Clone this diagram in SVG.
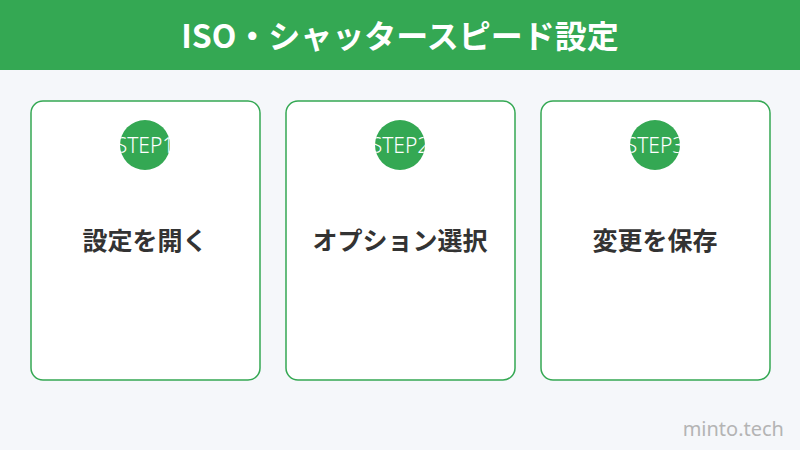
<svg xmlns="http://www.w3.org/2000/svg" width="800" height="450" viewBox="0 0 800 450">
<style>
.card{fill:#fff;stroke:#34a853;stroke-width:1.5}
.badge{fill:#34a853}
.step{font-family:"Noto Sans","Noto Sans CJK JP",sans-serif;font-size:21px;font-weight:300;fill:#fff;text-anchor:middle}
.label{font-family:"Noto Sans CJK JP",sans-serif;font-size:25px;font-weight:700;fill:#333;text-anchor:middle}
</style>
<defs>
<clipPath id="c1"><circle cx="145" cy="145" r="25"/></clipPath>
<clipPath id="c2"><circle cx="400" cy="145" r="25"/></clipPath>
<clipPath id="c3"><circle cx="655" cy="145" r="25"/></clipPath>
</defs>
<rect width="800" height="450" fill="#f5f7fa"/>
<g id="header">
<rect x="0" y="0" width="800" height="70" fill="#34a853"/>
<text x="400" y="48" font-family="'Noto Sans CJK JP',sans-serif" font-size="32" font-weight="700" fill="#fff" text-anchor="middle">ISO・シャッタースピード設定</text>
</g>
<g id="step1">
<rect class="card" x="31" y="101" width="229" height="279" rx="12"/>
<circle class="badge" cx="145" cy="145" r="25"/>
<text class="step" x="145" y="153" clip-path="url(#c1)">STEP1</text>
<text class="label" x="145" y="250">設定を開く</text>
</g>
<g id="step2">
<rect class="card" x="286" y="101" width="229" height="279" rx="12"/>
<circle class="badge" cx="400" cy="145" r="25"/>
<text class="step" x="400" y="153" clip-path="url(#c2)">STEP2</text>
<text class="label" x="400" y="250">オプション選択</text>
</g>
<g id="step3">
<rect class="card" x="541" y="101" width="229" height="279" rx="12"/>
<circle class="badge" cx="655" cy="145" r="25"/>
<text class="step" x="655" y="153" clip-path="url(#c3)">STEP3</text>
<text class="label" x="655" y="250">変更を保存</text>
</g>
<g id="connectors"/>
<text x="784" y="436" font-family="'Noto Sans',sans-serif" font-size="20" fill="#b4b4b4" text-anchor="end">minto.tech</text>
</svg>
